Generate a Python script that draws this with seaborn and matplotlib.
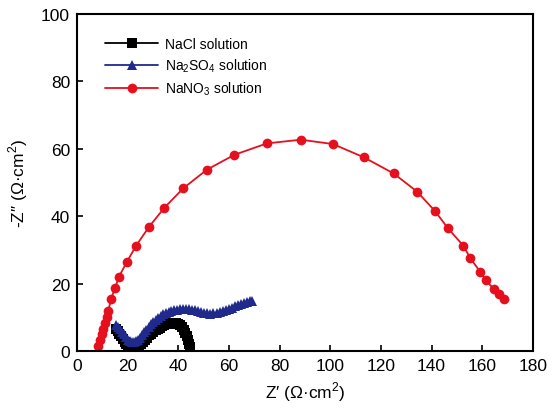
import matplotlib
matplotlib.use("Agg")
import matplotlib.pyplot as plt
import seaborn as sns
import pandas as pd

# NaCl solution
nacl_x = [15.3, 16.0, 16.7, 17.4, 18.1, 18.8, 19.5, 20.2, 20.9, 21.6, 22.3, 23.0, 23.8, 24.6,
          25.4, 26.2, 27.0, 27.8, 28.6, 29.4, 30.2, 31.0, 31.8, 32.6, 33.4, 34.2, 35.0, 35.8,
          36.6, 37.4, 38.2, 39.0, 39.8, 40.6, 41.4, 42.1, 42.8, 43.4, 43.9, 44.3, 44.6, 44.8]
nacl_y = [6.6, 5.9, 5.1, 4.3, 3.5, 2.8, 2.1, 1.5, 1.1, 0.8, 0.7, 0.8, 1.1, 1.6,
          2.2, 2.8, 3.4, 4.0, 4.6, 5.1, 5.6, 6.1, 6.5, 6.9, 7.3, 7.6, 7.9, 8.1,
          8.3, 8.4, 8.4, 8.3, 8.0, 7.6, 7.0, 6.3, 5.4, 4.4, 3.3, 2.2, 1.2, 0.4]

# Na2SO4 solution
na2so4_x = [15.5, 16.2, 17.0, 17.8, 18.6, 19.4, 20.2, 21.0, 21.8, 22.6, 23.4, 24.2, 25.0, 25.8,
            26.6, 27.4, 28.3, 29.2, 30.1, 31.0, 32.0, 33.0, 34.0, 35.1, 36.2, 37.3, 38.4, 39.5,
            40.7, 41.9, 43.1, 44.3, 45.5, 46.7, 47.9, 49.1, 50.3, 51.5, 52.7, 53.9, 55.1, 56.3,
            57.5, 58.7, 59.9, 61.1, 62.3, 63.5, 64.7, 65.9, 67.1, 68.3, 69.0]
na2so4_y = [7.8, 7.2, 6.5, 5.7, 4.9, 4.1, 3.4, 2.9, 2.6, 2.6, 2.9, 3.4, 4.0, 4.7,
            5.5, 6.3, 7.1, 7.9, 8.6, 9.3, 9.9, 10.4, 10.9, 11.3, 11.6, 11.9, 12.1, 12.3,
            12.4, 12.5, 12.5, 12.4, 12.3, 12.1, 11.9, 11.6, 11.4, 11.2, 11.1, 11.2, 11.4, 11.7,
            12.0, 12.3, 12.6, 12.9, 13.2, 13.5, 13.8, 14.1, 14.4, 14.7, 14.9]

# NaNO3 solution
nano3_x = [8.4, 9.1, 9.8, 10.4, 11.1, 11.7, 12.4, 13.4, 15.0, 16.6, 19.6, 23.3, 28.5, 34.5,
           42.0, 51.3, 62.1, 75.0, 88.4, 101.1, 113.2, 125.0, 134.3, 141.4, 146.5, 152.5,
           155.3, 159.3, 161.4, 164.5, 166.5, 168.8]
nano3_y = [1.4, 3.4, 5.1, 6.5, 8.3, 10.0, 11.9, 15.4, 18.6, 22.1, 26.3, 31.2, 36.9, 42.5,
           48.3, 53.8, 58.2, 61.6, 62.7, 61.4, 57.5, 52.7, 47.3, 41.5, 36.4, 31.3,
           27.6, 23.4, 21.1, 18.4, 16.9, 15.4]

series = [
    ("NaCl solution", nacl_x, nacl_y, "black", "s", 6.5),
    ("Na$_2$SO$_4$ solution", na2so4_x, na2so4_y, "#1f2a8c", "^", 7.5),
    ("NaNO$_3$ solution", nano3_x, nano3_y, "#e60f1e", "o", 7.0),
]

sns.set_style("ticks")
plt.rcParams["font.family"] = ["Liberation Sans", "DejaVu Sans"]
plt.rcParams["mathtext.fontset"] = "custom"
plt.rcParams["mathtext.rm"] = "Liberation Sans"
plt.rcParams["text.color"] = "black"
plt.rcParams["axes.labelcolor"] = "black"
plt.rcParams["xtick.color"] = "black"
plt.rcParams["ytick.color"] = "black"

fig = plt.figure(figsize=(5.52, 4.14), dpi=100)
ax = fig.add_axes([0.1395, 0.1498, 0.8257, 0.8140])

for name, xs, ys, color, marker, ms in series:
    df = pd.DataFrame({"x": xs, "y": ys})
    sns.lineplot(data=df, x="x", y="y", ax=ax, sort=False, estimator=None,
                 color=color, marker=marker, markersize=ms, markeredgewidth=0,
                 linewidth=1.3, label=name)

ax.set_xlim(0, 180)
ax.set_ylim(0, 100)
ax.set_xticks(range(0, 181, 20))
ax.set_yticks(range(0, 101, 20))
ax.tick_params(direction="in", length=4, width=1.2, labelsize=12.5, pad=5,
               top=False, right=False)
for s in ax.spines.values():
    s.set_linewidth(1.5)
    s.set_color("black")
ax.set_xlabel("Z\u2032 (\u03a9\u00b7cm$^2$)", fontsize=12.5, labelpad=5)
ax.set_ylabel("-Z\u2033 (\u03a9\u00b7cm$^2$)", fontsize=12.5, labelpad=8)

ax.legend(loc="upper left", bbox_to_anchor=(0.035, 0.968), frameon=False, fontsize=10,
          handlelength=3.8, handletextpad=0.5, labelspacing=0.4)

fig.savefig("out.png", dpi=100)
